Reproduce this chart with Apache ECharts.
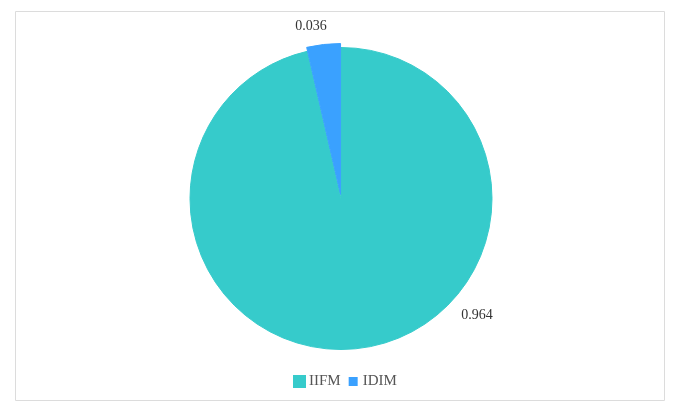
<!DOCTYPE html>
<html>
<head>
<meta charset="utf-8">
<script src="https://cdn.jsdelivr.net/npm/echarts@6/dist/echarts.min.js"></script>
<style>
  html, body { margin: 0; padding: 0; background: #fff; }
  #main { width: 683px; height: 415px; }
</style>
</head>
<body>
<div id="main"></div>
<script>
  // data
  var categories = ["IIFM", "IDIM"];
  var values = [0.964, 0.036];
  var colors = ["#36cbcb", "#3aa1ff"];

  // where the value labels sit (label centres, not marks)
  var labelSpots = [
    { x: 477, y: 315 },
    { x: 311.5, y: 30.5 }
  ];

  var myChart = echarts.init(document.getElementById("main"));

  var option = {
    backgroundColor: "#fff",
    color: colors,
    textStyle: { fontFamily: "Liberation Serif" },
    graphic: [
      {
        type: "rect",
        shape: { x: 15.5, y: 11.5, width: 649, height: 389 },
        style: { fill: "none", stroke: "#dcdcdc", lineWidth: 1 },
        silent: true
      }
    ],
    legend: {
      top: 366,
      left: 286,
      itemWidth: 15,
      itemHeight: 15,
      itemGap: 2,
      icon: "rect",
      data: [
        { name: categories[0], itemStyle: { borderColor: "#fff", borderWidth: 2 } },
        // second key drawn smaller, as in the picture
        { name: categories[1], itemStyle: { borderColor: "#fff", borderWidth: 6 } }
      ],
      textStyle: { fontFamily: "Liberation Serif", fontSize: 15, color: "#555", padding: [0, 0, 0, -3] }
    },
    series: [
      {
        type: "pie",
        center: [341, 198.5],
        radius: [0, 151],
        startAngle: 90,
        clockwise: true,
        selectedMode: "single",
        selectedOffset: 4,
        label: {
          show: true,
          position: "outside",
          formatter: "{c}",
          fontFamily: "Liberation Serif",
          fontSize: 14,
          color: "#333"
        },
        labelLine: { show: false },
        labelLayout: function (p) {
          var s = labelSpots[p.dataIndex];
          var r = p.labelRect;
          return {
            dx: s.x - (r.x + r.width / 2),
            dy: s.y - (r.y + r.height / 2)
          };
        },
        emphasis: { scale: false },
        data: categories.map(function (name, i) {
          return {
            name: name,
            value: values[i],
            selected: i === 1,
            itemStyle: { borderColor: colors[i], borderWidth: 1 }
          };
        })
      }
    ]
  };

  myChart.setOption(option);
</script>
</body>
</html>
